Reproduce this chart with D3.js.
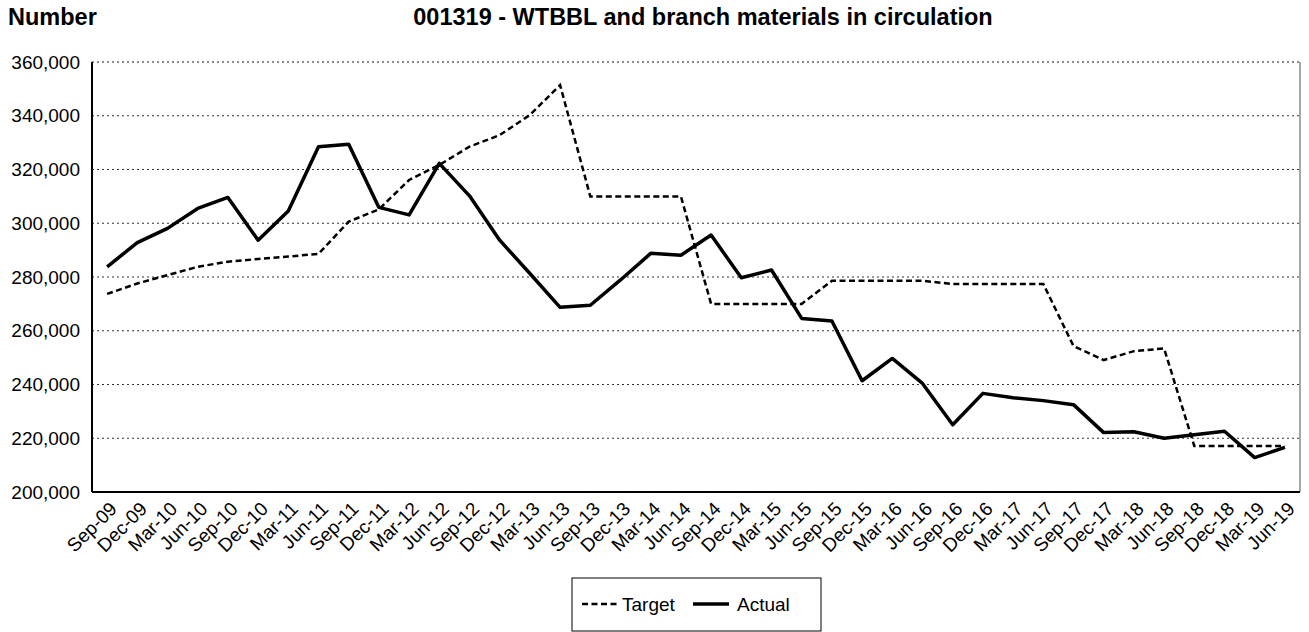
<html lang="en">
<head>
    <meta charset="utf-8">
    <title>001319 - WTBBL and branch materials in circulation</title>
    <script src="https://d3js.org/d3.v7.min.js"></script>
    <style>
        body { margin: 0; background: #fff; }
        text { font-family: "Liberation Sans", Arial, sans-serif; fill: #000; }
    </style>
</head>
<body>
<svg width="1309" height="632"></svg>
<script>
    var quarters = ["Sep-09","Dec-09","Mar-10","Jun-10","Sep-10","Dec-10","Mar-11","Jun-11","Sep-11","Dec-11",
                    "Mar-12","Jun-12","Sep-12","Dec-12","Mar-13","Jun-13","Sep-13","Dec-13","Mar-14","Jun-14",
                    "Sep-14","Dec-14","Mar-15","Jun-15","Sep-15","Dec-15","Mar-16","Jun-16","Sep-16","Dec-16",
                    "Mar-17","Jun-17","Sep-17","Dec-17","Mar-18","Jun-18","Sep-18","Dec-18","Mar-19","Jun-19"];

    var target = [273700, 277600, 280700, 283800, 285700, 286700, 287600, 288600, 300600, 305200,
                  316100, 321700, 328500, 332800, 340300, 351400, 310000, 310000, 310000, 310000,
                  270000, 270000, 270000, 270000, 278600, 278600, 278600, 278600, 277400, 277400,
                  277400, 277400, 254300, 249100, 252400, 253400, 217100, 217100, 217100, 217100];

    var actual = [283800, 292800, 298100, 305500, 309600, 293700, 304600, 328500, 329400, 305900,
                  303100, 322300, 310200, 293700, 281300, 268700, 269500, 278900, 288800, 288100,
                  295600, 279700, 282600, 264600, 263600, 241400, 249700, 240400, 225000, 236700,
                  235100, 234000, 232500, 222100, 222400, 220000, 221300, 222600, 212800, 216600];

    var yTicks = [200000, 220000, 240000, 260000, 280000, 300000, 320000, 340000, 360000];

    var svg = d3.select("svg"),
        margin = {top: 62, right: 9, bottom: 140, left: 92},
        width = 1309 - margin.left - margin.right,
        height = 632 - margin.top - margin.bottom,
        g = svg.append("g").attr("transform", "translate(" + margin.left + "," + margin.top + ")");

    var x = d3.scaleBand().domain(quarters).range([0, width]),
        y = d3.scaleLinear().domain([200000, 360000]).range([height, 0]);

    var fmt = d3.format(",");

    // titles
    svg.append("text").attr("x", 8).attr("y", 25)
        .style("font-size", "23.5px").style("font-weight", "bold").text("Number");
    svg.append("text").attr("x", 703).attr("y", 25).attr("text-anchor", "middle")
        .style("font-size", "23.5px").style("font-weight", "bold")
        .text("001319 - WTBBL and branch materials in circulation");

    // gridlines
    g.selectAll(".grid").data(yTicks.slice(1)).enter().append("line")
        .attr("x1", 0).attr("x2", width)
        .attr("y1", function(d) { return y(d); }).attr("y2", function(d) { return y(d); })
        .attr("stroke", function(d) { return d === 360000 ? "#666" : "#333"; })
        .attr("stroke-width", function(d) { return d === 360000 ? 1.5 : 1; })
        .attr("stroke-dasharray", "2,3");

    // right border
    g.append("line").attr("x1", width).attr("x2", width).attr("y1", 0).attr("y2", height)
        .attr("stroke", "#888").attr("stroke-width", 1.5);

    // y axis labels
    g.selectAll(".ylab").data(yTicks).enter().append("text")
        .attr("x", -12).attr("y", function(d) { return y(d); })
        .attr("dy", "0.35em").attr("text-anchor", "end")
        .style("font-size", "19px")
        .text(function(d) { return fmt(d); });

    // x axis labels
    g.selectAll(".xlab").data(quarters).enter().append("text")
        .attr("text-anchor", "end")
        .style("font-size", "19px")
        .attr("transform", function(d) {
            return "translate(" + (x(d) + x.bandwidth() / 2 + 11) + "," + (height + 18) + ") rotate(-45)";
        })
        .text(function(d) { return d; });

    // axes lines
    g.append("line").attr("x1", 0).attr("x2", 0).attr("y1", 0).attr("y2", height)
        .attr("stroke", "#000").attr("stroke-width", 2);
    g.append("line").attr("x1", 0).attr("x2", width).attr("y1", height).attr("y2", height)
        .attr("stroke", "#000").attr("stroke-width", 2);

    var line = d3.line()
        .x(function(d, i) { return x(quarters[i]) + x.bandwidth() / 2; })
        .y(function(d) { return y(d); });

    g.append("path").datum(target)
        .attr("fill", "none").attr("stroke", "#000").attr("stroke-width", 2.5)
        .attr("stroke-dasharray", "6,3.5")
        .attr("d", line);

    g.append("path").datum(actual)
        .attr("fill", "none").attr("stroke", "#000").attr("stroke-width", 3.5)
        .attr("stroke-linejoin", "round")
        .attr("d", line);

    // legend
    var lg = svg.append("g").attr("transform", "translate(572,578)");
    lg.append("rect").attr("width", 249).attr("height", 53)
        .attr("fill", "#fff").attr("stroke", "#000").attr("stroke-width", 1);
    lg.append("line").attr("x1", 10).attr("x2", 46).attr("y1", 26).attr("y2", 26)
        .attr("stroke", "#000").attr("stroke-width", 2.5).attr("stroke-dasharray", "6,3.5");
    lg.append("text").attr("x", 50).attr("y", 26).attr("dy", "0.35em")
        .style("font-size", "19px").text("Target");
    lg.append("line").attr("x1", 121).attr("x2", 157).attr("y1", 26).attr("y2", 26)
        .attr("stroke", "#000").attr("stroke-width", 3.5);
    lg.append("text").attr("x", 165).attr("y", 26).attr("dy", "0.35em")
        .style("font-size", "19px").text("Actual");
</script>
</body>
</html>
